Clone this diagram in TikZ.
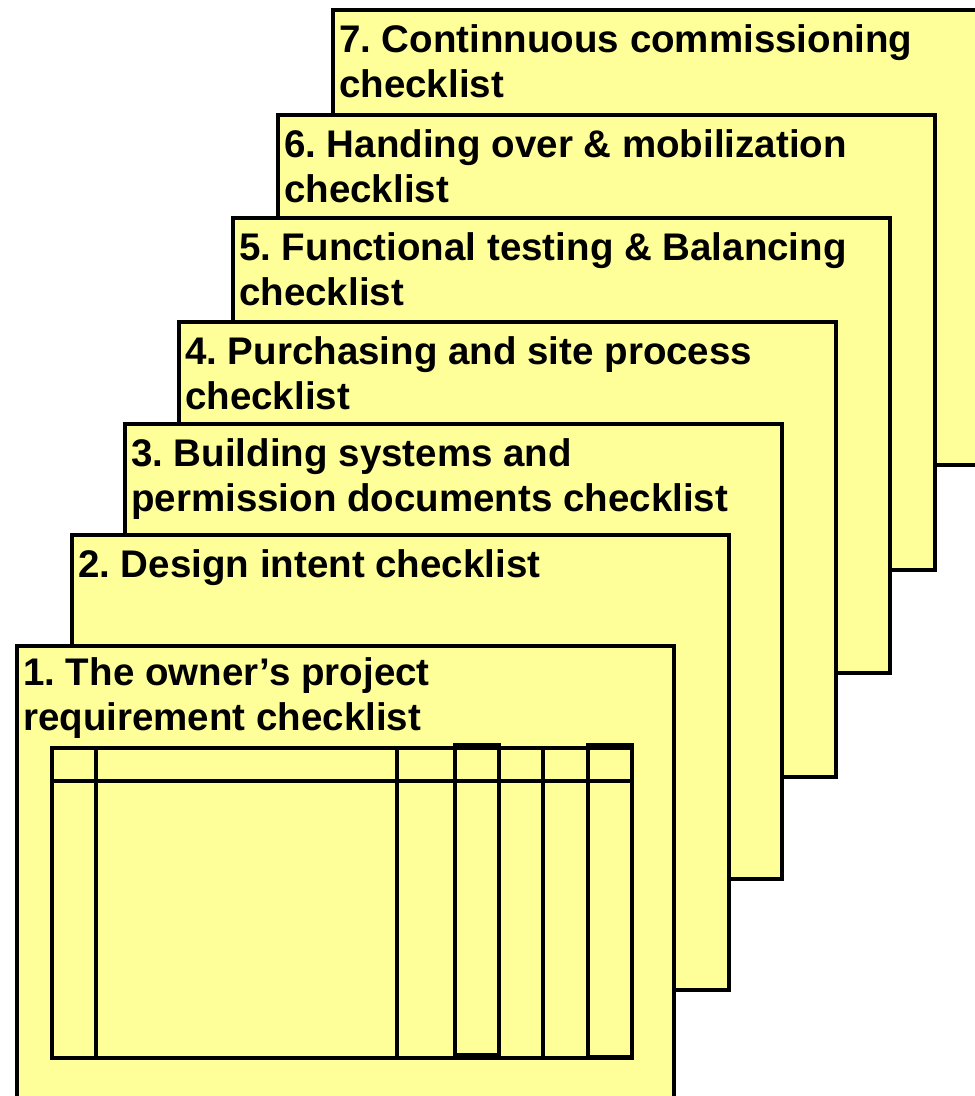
\documentclass[tikz,border=0pt]{standalone}
\usepackage{fontspec}
\setmainfont{Liberation Sans}
\usetikzlibrary{positioning}

\definecolor{cardyellow}{RGB}{255,255,153}

\begin{document}
\frenchspacing
\begin{tikzpicture}[x=1pt, y=-1pt,
  card/.style={draw, line width=3.5pt, fill=cardyellow, anchor=north west,
    inner sep=0pt, minimum width=657pt, minimum height=455pt},
  cardtitle/.style={anchor=base west, align=left, inner sep=0pt,
    font=\fontsize{38.5}{45}\selectfont\bfseries},
  gridline/.style={draw, line width=3.5pt}]
  \clip (0,0) rectangle (975,1096);

  % stack of checklists, back to front (base sits on the last line)
  \node[card] (card7) at (331,8) {};
  \node[cardtitle] (title7) at ([shift={(8,89)}]card7.north west)
    {7. Continnuous commissioning\\checklist};
  \node[card] (card6) at (276,113) {};
  \node[cardtitle] (title6) at ([shift={(8,89)}]card6.north west)
    {6. Handing over \& mobilization\\checklist};
  \node[card] (card5) at (231,216) {};
  \node[cardtitle] (title5) at ([shift={(8,89)}]card5.north west)
    {5. Functional testing \& Balancing\\checklist};
  \node[card] (card4) at (177,320) {};
  \node[cardtitle] (title4) at ([shift={(8,89)}]card4.north west)
    {4. Purchasing and site process\\checklist};
  \node[card] (card3) at (123,422) {};
  \node[cardtitle] (title3) at ([shift={(8,89)}]card3.north west)
    {3. Building systems and\\permission documents checklist};
  \node[card] (card2) at (70,533) {};
  \node[cardtitle] (title2) at ([shift={(8,44)}]card2.north west)
    {2. Design intent checklist};
  \node[card] (card1) at (15,644) {};
  \node[cardtitle] (title1) at ([shift={(8,86)}]card1.north west)
    {1. The owner’s project\\requirement checklist};

  % empty table on the front sheet
  \path[gridline] (52,748) rectangle (632,1058);
  \path[gridline] (52,781) -- (632,781);
  \path[gridline] (96,748) -- (96,1058);
  \path[gridline] (397,748) -- (397,1058);
  \path[gridline] (543,748) -- (543,1058);
  \path[gridline] (455,745) rectangle (499,1055);
  \path[gridline] (588,745) rectangle (632,1057);
\end{tikzpicture}
\end{document}
